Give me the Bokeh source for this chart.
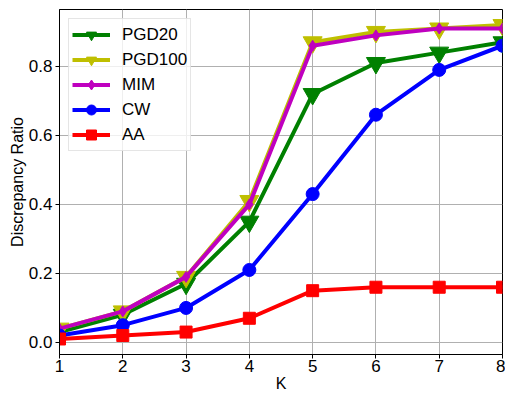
from bokeh.plotting import figure
from bokeh.embed import file_html
from bokeh.resources import INLINE
from bokeh.models import Range1d, FixedTicker, PrintfTickFormatter

k_values = [1, 2, 3, 4, 5, 6, 7, 8]
pgd20 = [0.03, 0.08, 0.17, 0.35, 0.72, 0.81, 0.84, 0.87]
pgd100 = [0.04, 0.09, 0.19, 0.41, 0.87, 0.90, 0.91, 0.92]
mim = [0.04, 0.09, 0.19, 0.40, 0.86, 0.89, 0.91, 0.91]
cw = [0.02, 0.05, 0.10, 0.21, 0.43, 0.66, 0.79, 0.86]
aa = [0.01, 0.02, 0.03, 0.07, 0.15, 0.16, 0.16, 0.16]
y_ticks = [0.0, 0.2, 0.4, 0.6, 0.8]
x_ticks = [1, 2, 3, 4, 5, 6, 7, 8]

FONT = "Liberation Sans"

p = figure(width=505, height=394, output_backend="svg", toolbar_location=None,
           x_range=Range1d(1, 8), y_range=Range1d(-0.035, 0.965),
           min_border_left=59, min_border_right=3, min_border_top=9, min_border_bottom=39)

series = [
    ("PGD20", pgd20, "#008000", "inverted_triangle", 19),
    ("PGD100", pgd100, "#bfbf00", "inverted_triangle", 19),
    ("MIM", mim, "#bf00bf", "diamond", 11),
    ("CW", cw, "#0000ff", "circle", 13),
    ("AA", aa, "#ff0000", "square", 12),
]
for name, ys, color, marker, size in series:
    p.line(k_values, ys, line_color=color, line_width=4, legend_label=name)
    p.scatter(k_values, ys, marker=marker, size=size, fill_color=color,
              line_color=color, legend_label=name)

p.xaxis.ticker = FixedTicker(ticks=x_ticks)
p.yaxis.ticker = FixedTicker(ticks=y_ticks)
p.yaxis.formatter = PrintfTickFormatter(format="%.1f")
p.xaxis.axis_label = "K"
p.yaxis.axis_label = "Discrepancy Ratio"
for ax in (p.xaxis, p.yaxis):
    ax.axis_label_text_font = FONT
    ax.axis_label_text_font_size = "16px"
    ax.axis_label_text_font_style = "normal"
    ax.axis_label_text_color = "black"
    ax.major_label_text_font = FONT
    ax.major_label_text_font_size = "17px"
    ax.major_label_text_color = "black"
    ax.axis_line_color = "black"
    ax.axis_line_width = 1
    ax.major_tick_line_color = "black"
    ax.major_tick_in = 0
    ax.major_tick_out = 4
    ax.minor_tick_line_color = None
    ax.axis_label_standoff = 0
p.xaxis.major_label_standoff = 1
p.yaxis.major_label_standoff = 3

p.grid.grid_line_color = "#b0b0b0"
p.grid.grid_line_width = 1
p.outline_line_color = "black"
p.outline_line_width = 1

p.legend.location = "top_left"
p.legend.label_text_font = FONT
p.legend.label_text_font_size = "17px"
p.legend.label_text_color = "black"
p.legend.glyph_width = 38
p.legend.glyph_height = 25
p.legend.label_height = 25
p.legend.label_standoff = 12
p.legend.spacing = 0
p.legend.padding = 3
p.legend.margin = 9
p.legend.border_line_color = "#cccccc"
p.legend.background_fill_alpha = 0.8

open("out.html", "w").write(file_html(p, INLINE))
